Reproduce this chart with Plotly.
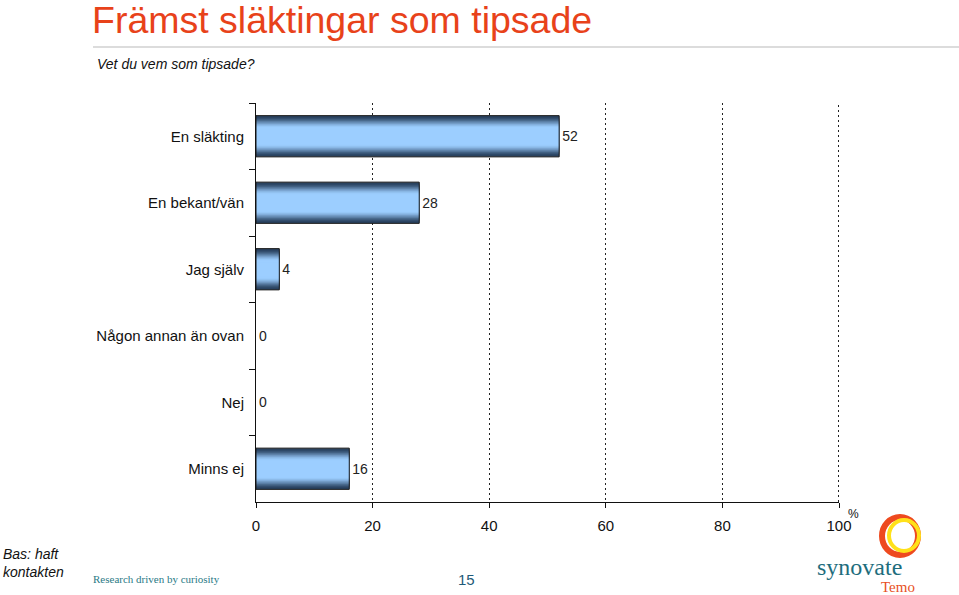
import plotly.graph_objects as go

categories = ["En släkting", "En bekant/vän", "Jag själv", "Någon annan än ovan", "Nej", "Minns ej"]
values = [52, 28, 4, 0, 0, 16]
x_ticks = [0, 20, 40, 60, 80, 100]

W, H = 959, 595
L, R, T, B = 256, 839, 103, 502

def px(x):
    return (x - L) / (R - L)

def py(y):
    return (B - y) / (B - T)

def lerp(c1, c2, t):
    return "rgb(%d,%d,%d)" % tuple(round(a + (b - a) * t) for a, b in zip(c1, c2))

dark = (40, 64, 94)
light = (156, 206, 255)

fig = go.Figure()
n = 14
bar_w = 0.62
for i in range(n):
    t = i / (n - 1)
    tt = min(1.0, t * 1.25)
    tt = tt * tt * (3 - 2 * tt)
    w = bar_w * (1 - 0.72 * t)
    fig.add_trace(go.Bar(
        y=categories, x=values, orientation="h", width=w,
        marker=dict(color=lerp(dark, light, tt), line=dict(width=0)),
        hoverinfo="skip", showlegend=False,
    ))

fig.add_trace(go.Bar(
    y=categories, x=values, orientation="h", width=bar_w,
    marker=dict(color="rgba(0,0,0,0)",
                line=dict(width=[1 if v > 0 else 0 for v in values], color="#1a1a1a")),
    text=[str(v) for v in values], textposition="outside",
    textfont=dict(size=14, color="#222", family="Liberation Sans, Arial"),
    cliponaxis=False, showlegend=False,
))

fig.update_layout(
    width=W, height=H, barmode="overlay",
    margin=dict(l=L, r=W - R, t=T, b=H - B),
    paper_bgcolor="white", plot_bgcolor="white",
    font=dict(family="Liberation Sans, Arial", color="#111"),
    xaxis=dict(range=[0, 100], tickvals=x_ticks, showgrid=True, gridcolor="#222",
               griddash="2px,3px", gridwidth=1, showline=True, linecolor="#111", linewidth=1,
               ticks="outside", ticklen=5, tickcolor="#111", tickfont=dict(size=15),
               ticklabelstandoff=5, zeroline=False),
    yaxis=dict(autorange="reversed", showline=True, linecolor="#111", linewidth=1,
               ticks="outside", ticklen=6, tickcolor="#111", tickson="boundaries",
               showgrid=False, tickfont=dict(size=15), ticklabelstandoff=8),
)

shapes = [
    # dotted gridline at the right edge (plotly hides gridlines on the plot edge)
    dict(type="line", xref="paper", yref="paper", x0=px(R - 0.5), x1=px(R - 0.5), y0=0, y1=1,
         line=dict(color="#222", width=1, dash="2px,3px")),
    dict(type="line", xref="paper", yref="paper", x0=px(93), x1=px(959), y0=py(47), y1=py(47),
         line=dict(color="#dcdcdc", width=2)),
    dict(type="circle", xref="paper", yref="paper", x0=px(882), x1=px(918), y0=py(555), y1=py(517),
         line=dict(color="#ee4a1f", width=6)),
    dict(type="circle", xref="paper", yref="paper", x0=px(889), x1=px(919), y0=py(551), y1=py(520),
         line=dict(color="#ffe11a", width=4)),
]
fig.update_layout(shapes=shapes)

def ann(text, x, y, size, color="#111", family="Liberation Sans, Arial", xanchor="left", italic=False):
    fig.add_annotation(text=("<i>%s</i>" % text) if italic else text, xref="paper", yref="paper",
                       x=px(x), y=py(y), xanchor=xanchor, yanchor="middle", showarrow=False,
                       font=dict(size=size, color=color, family=family))

ann("Främst släktingar som tipsade", 90, 20, 37.5, color="#e8421a")
ann("Vet du vem som tipsade?", 95, 64, 14, italic=True)
ann("%", 846, 514, 12)
ann("Bas: haft", 1, 554, 14, italic=True)
ann("kontakten", 1, 572, 14, italic=True)
ann("Research driven by curiosity", 91, 579, 11, color="#2a7a86", family="Liberation Serif, Times New Roman")
ann("15", 466, 579, 15, color="#1f5a78", xanchor="center")
ann("synovate", 859, 567, 24, color="#1e6d7d", family="Liberation Serif, Times New Roman", xanchor="center")
ann("Temo", 898, 587, 15, color="#e8501e", family="Liberation Serif, Times New Roman", xanchor="center")

fig.write_html("out.html")
